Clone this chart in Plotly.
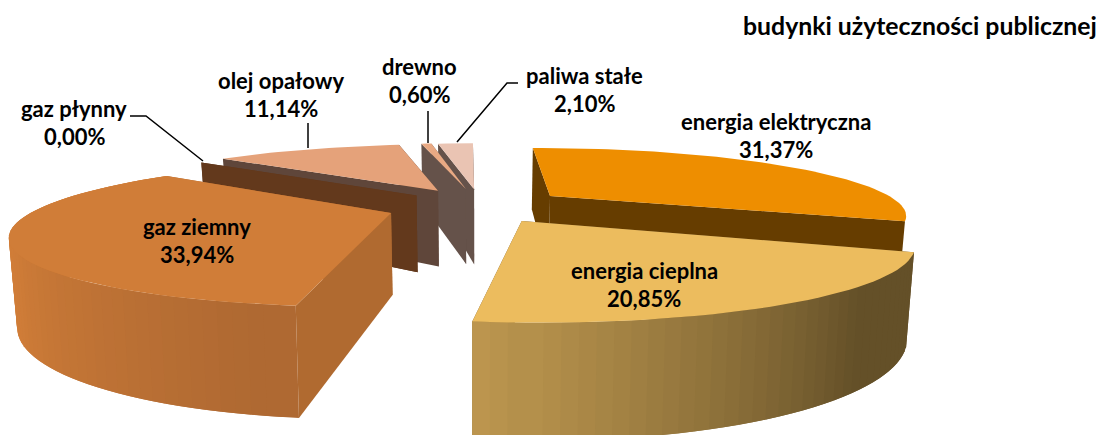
import numpy as np
import plotly.graph_objects as go

# --- data ---
categories = ["energia elektryczna", "energia cieplna", "gaz ziemny", "gaz płynny",
              "olej opałowy", "drewno", "paliwa stałe"]
values = [31.37, 20.85, 33.94, 0.00, 11.14, 0.60, 2.10]
value_labels = ["31,37%", "20,85%", "33,94%", "0,00%", "11,14%", "0,60%", "2,10%"]
title_text = "budynki użyteczności publicznej"

# --- style ---
pull = [0.26, 0.25, 0.25, 0.24, 0.25, 0.25, 0.24]
nudge_x = [2, 0, 0, 4, 5, 4, 5]
nudge_y = [-1, 0, 1, -1, -2, -2, -2]
top_colors = ["#EE8E00", "#ECBC5E", "#D07D38", "#63391C", "#E5A27A", "#E9A983", "#EAC4B3"]
wall_colors = ["#663D00", "#6B5430", "#B06A30", "#63391C", "#5F463A", "#65524A", "#65524A"]
rim_dark = [None, (100, 80, 40), (175, 105, 50), None, None, None, None]
rim_light = [None, (192, 153, 80), (208, 125, 56), None, None, None, None]
rim_span = [None, (135, 186), (190, 240), None, None, None, None]

CX, CY, A, B, H, P, K, ROT = 475, 206, 352, 65, 80, 0.265, 0.018, -0.5
FONT = "Lato"
FS = 22
FS_TITLE = 24.8


def project(x, y, z, i):
    x, y = np.asarray(x, float), np.asarray(y, float)
    s = 1 / (1 + P * y)
    return (CX + nudge_x[i] + A * x * s * (1 - K * (1 - z)),
            CY + nudge_y[i] - B * y * s + H * s * (1 - z))


fig = go.Figure()


def poly(xs, ys, color):
    fig.add_trace(go.Scatter(x=list(xs), y=list(ys), mode="lines", fill="toself",
                             fillcolor=color, line=dict(width=0),
                             hoverinfo="skip", showlegend=False))


total = sum(values)
edges = np.concatenate([[0], np.cumsum(values)]) / total * 360 + ROT
order = [6, 5, 4, 3, 0, 2, 1]  # painter's order, back to front

for i in order:
    a0, a1 = edges[i], edges[i + 1]
    mid = np.radians((a0 + a1) / 2)
    ox, oy = pull[i] * np.sin(mid), pull[i] * np.cos(mid)
    th = np.radians(np.linspace(a0, a1, max(3, int((a1 - a0) / 2) + 2)))
    rx, ry = ox + np.sin(th), oy + np.cos(th)

    # radial walls, far one first
    walls = sorted([(rx[0], ry[0]), (rx[-1], ry[-1])], key=lambda p: -p[1])
    for wx, wy in walls:
        xt, yt = project([wx, ox], [wy, oy], 1, i)
        xb, yb = project([ox, wx], [oy, wy], 0, i)
        poly(np.r_[xt, xb], np.r_[yt, yb], wall_colors[i])

    # curved outer wall, as overlapping shaded strips, far strips first
    if rim_span[i] is not None:
        lo, hi = rim_span[i]
        for j in sorted(range(len(th) - 1), key=lambda q: -ry[q]):
            k = min(j + 2, len(th) - 1)
            deg = np.degrees(th[j]) % 360
            t = np.clip((deg - lo) / (hi - lo), 0, 1)
            rgb = [int(round(u + (v - u) * t)) for u, v in zip(rim_dark[i], rim_light[i])]
            xt, yt = project(rx[j:k + 1], ry[j:k + 1], 1, i)
            xb, yb = project(rx[j:k + 1][::-1], ry[j:k + 1][::-1], 0, i)
            poly(np.r_[xt, xb], np.r_[yt, yb], "rgb(%d,%d,%d)" % tuple(rgb))

    # top face
    if values[i] > 0:
        xt, yt = project(np.r_[ox, rx], np.r_[oy, ry], 1, i)
        poly(xt, yt, top_colors[i])

# leader lines
leader_x = [[130, 146, 203], [308, 308], [428, 428], [518, 507, 457]]
leader_y = [[116, 116, 161], [123, 148], [111, 143], [83, 83, 142]]
for lx, ly in zip(leader_x, leader_y):
    fig.add_trace(go.Scatter(x=lx, y=ly, mode="lines", line=dict(color="black", width=1.5),
                             hoverinfo="skip", showlegend=False))

# labels
label_x = [776, 644, 197, 74, 281, 419, 584]
label_y = [121, 270, 226, 108, 80, 66, 75]
anns = []
for name, val, lx, ly in zip(categories, value_labels, label_x, label_y):
    for txt, dy in ((name, 0), (val, 28)):
        anns.append(dict(x=lx, y=ly + dy, text="<b>%s</b>" % txt, showarrow=False,
                         xref="x", yref="y", font=dict(family=FONT, size=FS, color="black")))
anns.append(dict(x=920, y=25, text="<b>%s</b>" % title_text, showarrow=False, xref="x", yref="y",
                 font=dict(family=FONT, size=FS_TITLE, color="black")))

fig.update_layout(
    width=1096, height=435, margin=dict(l=0, r=0, t=0, b=0),
    paper_bgcolor="white", plot_bgcolor="white", showlegend=False, annotations=anns,
    xaxis=dict(range=[0, 1096], visible=False, fixedrange=True),
    yaxis=dict(range=[435, 0], visible=False, fixedrange=True),
)
fig.write_html("out.html", config={"displayModeBar": False},
               post_script="document.body.style.margin='0';document.documentElement.style.overflow='hidden';")
